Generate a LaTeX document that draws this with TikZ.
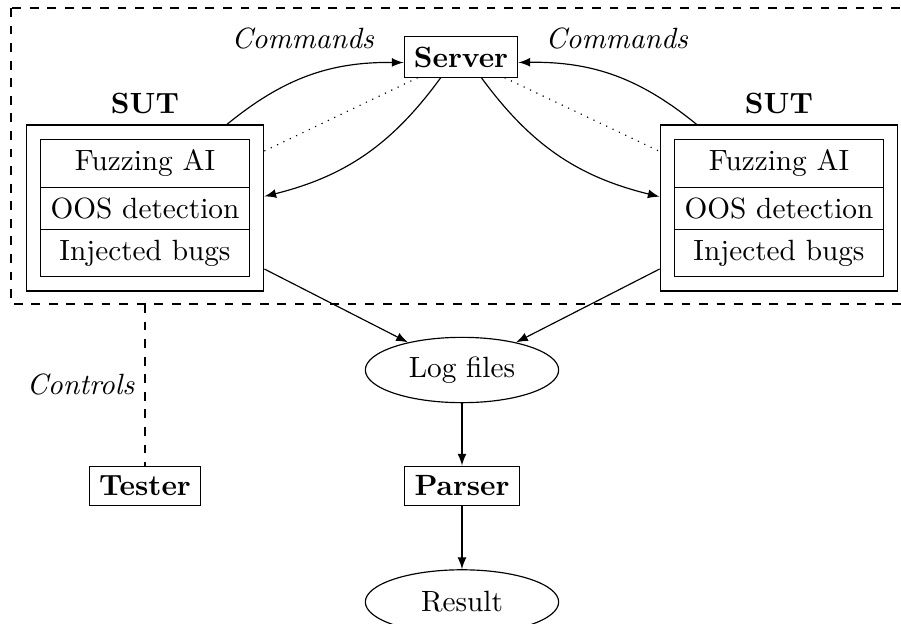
\documentclass[tikz,border=0pt]{standalone}
\usepackage{amsmath}
\usepackage{tikz}
\usetikzlibrary{shapes.geometric, shapes.multipart, fit}

\begin{document}
\begin{tikzpicture}[x=0.12mm, y=-0.12mm,
                    box/.style={draw, font=\bfseries},
                    blob/.style={draw, ellipse, minimum width=66pt, minimum height=22pt},
                    parts/.style={draw, rectangle split, rectangle split parts=3},
                    shell/.style={draw, inner sep=4.8pt, label={above:\textbf{SUT}}}]
                    \useasboundingbox (0,0) rectangle (901,623);
                    \draw[dashed] (11,8) rectangle (915,304);
                    \node[box] (server) at (461,57) {Server};
                    \node[parts] (innerl) at (145,208) {Fuzzing AI \nodepart{two} OOS detection \nodepart{three} Injected bugs};
                    \node[parts] (innerr) at (779,208) {Fuzzing AI \nodepart{two} OOS detection \nodepart{three} Injected bugs};
                    \node[shell, fit=(innerl)] (sutl) {}; \node[shell, fit=(innerr)] (sutr) {};
                    \node[blob] (logs) at (462,370) {Log files};
                    \node[box] (parser) at (462,486) {Parser};
                    \node[blob] (result) at (462,602) {Result};
                    \node[box] (tester) at (145,486) {Tester};
                    \node (cmdl) at (303,38) {\textit{Commands}};
                    \node (cmdr) at (617,38) {\textit{Commands}};
                    \coordinate (edge) at (145,304);
                    \draw[-latex] (sutl) to[bend left=20] (server);
                    \draw[-latex] (server) to[bend left=20] (sutl);
                    \draw[-latex] (sutr) to[bend right=20] (server);
                    \draw[-latex] (server) to[bend right=20] (sutr);
                    \draw[dotted] (server) -- (sutl); \draw[dotted] (server) -- (sutr);
                    \draw[-latex] (sutl) -- (logs); \draw[-latex] (sutr) -- (logs);
                    \draw[-latex] (logs) -- (parser); \draw[-latex] (parser) -- (result);
                    \draw[dashed] (edge) -- (tester) node[midway, left] {\textit{Controls}};
                \end{tikzpicture}
\end{document}
